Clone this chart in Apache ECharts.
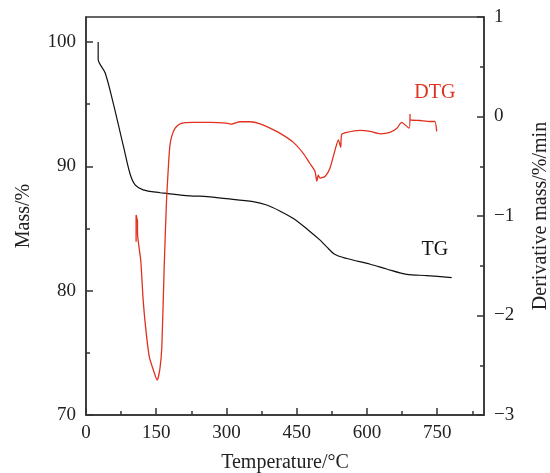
<!DOCTYPE html>
<html>
<head>
<meta charset="utf-8">
<script src="https://cdn.jsdelivr.net/npm/echarts@6/dist/echarts.min.js"></script>
<style>html,body{margin:0;padding:0;background:#fff}#c{width:550px;height:473px}</style>
</head>
<body>
<div id="c"></div>
<script>
// Temperature (°C) and mass (%) for TG
const tgTemp = [26, 26, 41, 58, 80, 94, 105, 122, 158, 172, 229, 243, 300, 357, 386, 414, 443, 475, 500, 514, 532, 557, 607, 642, 685, 728, 781];
const tgMass = [100, 98.6, 97.5, 95.1, 91.6, 89.4, 88.5, 88.1, 87.87, 87.82, 87.6, 87.6, 87.39, 87.15, 86.88, 86.4, 85.8, 84.86, 84.06, 83.52, 82.9, 82.58, 82.12, 81.74, 81.31, 81.21, 81.05];
// Temperature (°C) and derivative mass (%/min) for DTG
const dtgTemp = [107, 107, 110, 110, 117, 122, 128, 135, 144, 152, 158, 162, 167, 172, 176, 179, 183, 190, 201, 229, 265, 300, 311, 329, 350, 372, 393, 414, 443, 464, 478, 489, 493, 496, 500, 511, 521, 532, 539, 544, 546, 557, 585, 607, 628, 649, 664, 674, 690, 692, 692, 713, 735, 745, 749];
const dtgRate = [-1.26, -0.99, -1.06, -1.17, -1.45, -1.84, -2.15, -2.41, -2.55, -2.65, -2.53, -2.31, -1.51, -0.84, -0.50, -0.30, -0.20, -0.12, -0.073, -0.06, -0.06, -0.066, -0.076, -0.053, -0.053, -0.073, -0.117, -0.167, -0.26, -0.37, -0.47, -0.55, -0.65, -0.59, -0.62, -0.60, -0.52, -0.335, -0.234, -0.31, -0.18, -0.16, -0.14, -0.15, -0.174, -0.16, -0.117, -0.06, -0.117, 0.024, -0.033, -0.04, -0.05, -0.05, -0.15];
// Axis ticks
const xTicks = [0, 150, 300, 450, 600, 750];
const xMinorTicks = [75, 225, 375, 525, 675, 825];
const massTicks = [70, 80, 90, 100];
const massMinorTicks = [75, 85, 95];
const rateTicks = [-3, -2, -1, 0, 1];
const rateMinorTicks = [-2.5, -1.5, -0.5, 0.5];
// Annotations
const tgLabel = {text: 'TG', temp: 745, value: 83.3};
const dtgLabel = {text: 'DTG', temp: 745, value: 0.235};

const FONT = 'Liberation Serif';
const AX = '#333';
const RED = '#e0301e';
const txt = {fontFamily: FONT, fontSize: 19, color: '#222'};

function pairs(xs, ys) { return xs.map((x, i) => [x, ys[i]]); }

const chart = echarts.init(document.getElementById('c'), null, {renderer: 'canvas'});
chart.setOption({
  animation: false,
  backgroundColor: '#fff',
  grid: {left: 86, right: 66, top: 17, bottom: 58, containLabel: false, outerBoundsMode: 'none', show: true, borderColor: AX, borderWidth: 1.5, backgroundColor: 'transparent'},
  xAxis: [
    {
      type: 'value', min: 0, max: 850,
      name: 'Temperature/°C', nameLocation: 'middle', nameGap: 38,
      nameTextStyle: Object.assign({}, txt, {fontSize: 20}),
      axisLine: {onZero: false, lineStyle: {color: AX, width: 1.5}},
      axisTick: {inside: true, length: 7, lineStyle: {color: AX, width: 1.5}, customValues: xTicks},
      axisLabel: Object.assign({}, txt, {margin: 9, customValues: xTicks}),
      splitLine: {show: false}
    },
    {
      type: 'value', min: 0, max: 850, position: 'bottom',
      axisLine: {show: false, onZero: false},
      axisTick: {inside: true, length: 4, lineStyle: {color: AX, width: 1.5}, customValues: xMinorTicks},
      axisLabel: {show: false},
      splitLine: {show: false}
    }
  ],
  yAxis: [
    {
      type: 'value', min: 70, max: 102, position: 'left',
      name: 'Mass/%', nameLocation: 'middle', nameGap: 52,
      nameTextStyle: Object.assign({}, txt, {fontSize: 20}),
      axisLine: {show: true, onZero: false, lineStyle: {color: AX, width: 1.5}},
      axisTick: {show: true, inside: true, length: 7, lineStyle: {color: AX, width: 1.5}, customValues: massTicks},
      axisLabel: Object.assign({}, txt, {margin: 10, customValues: massTicks}),
      splitLine: {show: false}
    },
    {
      type: 'value', min: 70, max: 102, position: 'left',
      axisLine: {show: false, onZero: false},
      axisTick: {show: true, inside: true, length: 4, lineStyle: {color: AX, width: 1.5}, customValues: massMinorTicks},
      axisLabel: {show: false},
      splitLine: {show: false}
    },
    {
      type: 'value', min: -3, max: 1, position: 'right',
      name: 'Derivative mass/%/min', nameLocation: 'middle', nameGap: 47,
      nameTextStyle: Object.assign({}, txt, {fontSize: 20}),
      axisLine: {show: true, onZero: false, lineStyle: {color: AX, width: 1.5}},
      axisTick: {show: true, inside: true, length: 7, lineStyle: {color: AX, width: 1.5}, customValues: rateTicks},
      axisLabel: Object.assign({}, txt, {margin: 10, customValues: rateTicks, formatter: v => (v < 0 ? '\u2212' + Math.abs(v) : String(v))}),
      splitLine: {show: false}
    },
    {
      type: 'value', min: -3, max: 1, position: 'right',
      axisLine: {show: false, onZero: false},
      axisTick: {show: true, inside: true, length: 4, lineStyle: {color: AX, width: 1.5}, customValues: rateMinorTicks},
      axisLabel: {show: false},
      splitLine: {show: false}
    }
  ],
  series: [
    {
      type: 'line', name: 'TG', xAxisIndex: 0, yAxisIndex: 0,
      data: pairs(tgTemp, tgMass), showSymbol: false, smooth: 0.3,
      lineStyle: {color: '#111', width: 1.2},
      markPoint: {
        symbol: 'circle', symbolSize: 1, itemStyle: {color: 'rgba(0,0,0,0)'},
        label: {show: true, position: 'inside', formatter: tgLabel.text, fontFamily: FONT, fontSize: 20, color: '#111'},
        data: [{coord: [tgLabel.temp, tgLabel.value]}]
      }
    },
    {
      type: 'line', name: 'DTG', xAxisIndex: 0, yAxisIndex: 2,
      data: pairs(dtgTemp, dtgRate), showSymbol: false, smooth: 0.2,
      lineStyle: {color: RED, width: 1.3},
      markPoint: {
        symbol: 'circle', symbolSize: 1, itemStyle: {color: 'rgba(0,0,0,0)'},
        label: {show: true, position: 'inside', formatter: dtgLabel.text, fontFamily: FONT, fontSize: 20, color: RED},
        data: [{coord: [dtgLabel.temp, dtgLabel.value]}]
      }
    }
  ]
});
</script>
</body>
</html>
